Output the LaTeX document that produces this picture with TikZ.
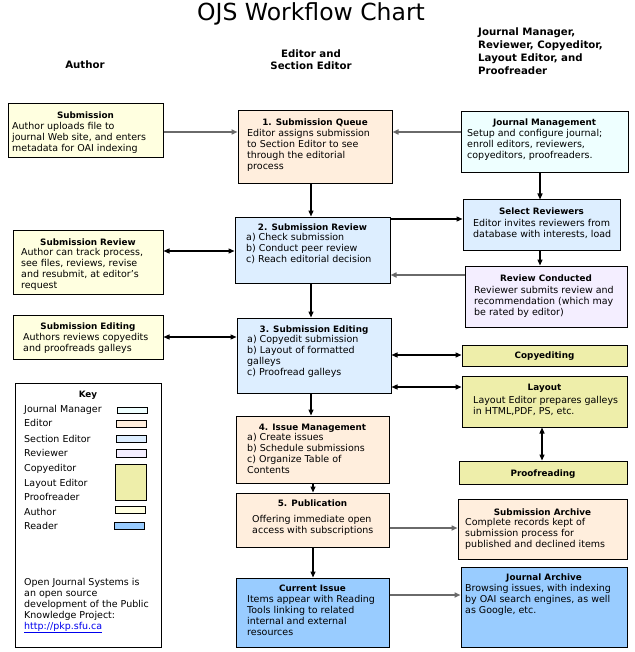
\documentclass[tikz,border=0pt]{standalone}
\usepackage{fontspec}
\setmainfont{DejaVu Sans}
\usetikzlibrary{arrows.meta}
\definecolor{jmcol}{HTML}{EEFFFF}
\definecolor{edcol}{HTML}{FFEEDD}
\definecolor{secol}{HTML}{DDEEFF}
\definecolor{rvcol}{HTML}{F4EEFF}
\definecolor{cecol}{HTML}{EEEEAA}
\definecolor{aucol}{HTML}{FFFFE0}
\definecolor{rdcol}{HTML}{99CCFF}
\definecolor{lncol}{HTML}{6A6A6A}
\definecolor{linkcol}{HTML}{0000EE}
\begin{document}
\begin{tikzpicture}[x=1pt,y=-1pt,
  box/.style={draw=black, line width=1pt, inner sep=0pt},
  sw/.style={draw=black, line width=0.8pt, inner sep=0pt},
  ttl/.style={font=\bfseries\fontsize{8.8}{11}\selectfont, anchor=base, inner sep=0pt},
  bdy/.style={font=\fontsize{9.5}{11}\selectfont, anchor=north west, inner sep=0pt, align=left},
  hdr/.style={font=\bfseries\fontsize{10.2}{13}\selectfont, inner sep=0pt},
  keytxt/.style={font=\fontsize{9.5}{11}\selectfont, anchor=base west, inner sep=0pt},
  arr/.style={line width=1.3pt, draw=black, -{Triangle[length=6pt,width=5pt]}},
  arrg/.style={line width=1.5pt, draw=lncol, -{Triangle[length=6pt,width=5pt,fill=black]}},
  darr/.style={line width=1.3pt, draw=black, {Triangle[length=6pt,width=5pt]}-{Triangle[length=6pt,width=5pt]}}
]
\useasboundingbox (0,0) rectangle (634,652);
\fill[white] (0,0) rectangle (634,652);

% title and headers
\node[font=\fontsize{23.5}{26}\selectfont, anchor=base, inner sep=0pt] (title) at (311,21) {OJS Workflow Chart};
\node[hdr, anchor=base] (hauthor) at (85,68.5) {Author};
\node[hdr, anchor=base] (hed1) at (311,57.5) {Editor and};
\node[hdr, anchor=base] (hed2) at (311,69.5) {Section Editor};
\node[hdr, anchor=base west] (hjm1) at (478,35.5) {Journal Manager,};
\node[hdr, anchor=base west] (hjm2) at (478,48.5) {Reviewer, Copyeditor,};
\node[hdr, anchor=base west] (hjm3) at (478,61.5) {Layout Editor, and};
\node[hdr, anchor=base west] (hjm4) at (478,74.5) {Proofreader};

% boxes
\node[box, fill=aucol, minimum width=155pt, minimum height=54pt] (sub) at (85.5,131) {};
\node[box, fill=aucol, minimum width=150pt, minimum height=64pt] (subrev) at (88,262) {};
\node[box, fill=aucol, minimum width=150pt, minimum height=44pt] (subedit) at (88,337) {};
\node[box, fill=white, minimum width=146pt, minimum height=264pt] (key) at (88,515) {};

\node[box, fill=edcol, minimum width=154pt, minimum height=73pt] (q1) at (315,147.5) {};
\node[box, fill=secol, minimum width=155pt, minimum height=66pt] (q2) at (312.5,250) {};
\node[box, fill=secol, minimum width=154pt, minimum height=75pt] (q3) at (314,355.5) {};
\node[box, fill=edcol, minimum width=153pt, minimum height=67pt] (q4) at (312.5,449.5) {};
\node[box, fill=edcol, minimum width=153pt, minimum height=54pt] (q5) at (312.5,520) {};
\node[box, fill=rdcol, minimum width=153pt, minimum height=69pt] (ci) at (312.5,612.5) {};

\node[box, fill=jmcol, minimum width=167pt, minimum height=61pt] (jm) at (544.5,142.5) {};
\node[box, fill=secol, minimum width=157pt, minimum height=50pt] (sr) at (541.5,225) {};
\node[box, fill=rvcol, minimum width=162pt, minimum height=61pt] (rc) at (546,296.5) {};
\node[box, fill=cecol, minimum width=165pt, minimum height=21pt] (ce) at (544.5,355.5) {};
\node[box, fill=cecol, minimum width=165pt, minimum height=51pt] (lay) at (544.5,401.5) {};
\node[box, fill=cecol, minimum width=168pt, minimum height=23pt] (pr) at (543,472.5) {};
\node[box, fill=edcol, minimum width=169pt, minimum height=60pt] (sa) at (542.5,529) {};
\node[box, fill=rdcol, minimum width=166pt, minimum height=80pt] (ja) at (544,607) {};

% texts
\node[ttl] (subT) at (85.5,118.5) {Submission};
\node[bdy] (subB) at (12,121.8) {Author uploads file to\\journal Web site, and enters\\metadata for OAI indexing};
\node[ttl] (subrevT) at (88,245.5) {Submission Review};
\node[bdy] (subrevB) at (21,247.8) {Author can track process,\\see files, reviews, revise\\and resubmit, at editor’s\\request};
\node[ttl] (subeditT) at (88,329) {Submission Editing};
\node[bdy] (subeditB) at (23,332.8) {Authors reviews copyedits\\and proofreads galleys};

\node[ttl] (q1T) at (315,125.5) {1. Submission Queue};
\node[bdy] (q1B) at (247,128.8) {Editor assigns submission\\to Section Editor to see\\through the editorial\\process};
\node[ttl] (q2T) at (312.5,230.5) {2. Submission Review};
\node[bdy] (q2B) at (246,232.8) {a) Check submission\\b) Conduct peer review\\c) Reach editorial decision};
\node[ttl] (q3T) at (314,332.5) {3. Submission Editing};
\node[bdy] (q3B) at (247,334.8) {a) Copyedit submission\\b) Layout of formatted\\galleys\\c) Proofread galleys};
\node[ttl] (q4T) at (312.5,430.5) {4. Issue Management};
\node[bdy] (q4B) at (247,432.8) {a) Create issues\\b) Schedule submissions\\c) Organize Table of\\Contents};
\node[ttl] (q5T) at (312.5,506.5) {5. Publication};
\node[bdy] (q5B) at (252,514.8) {Offering immediate open\\access with subscriptions};
\node[ttl] (ciT) at (312.5,591.5) {Current Issue};
\node[bdy] (ciB) at (247,594.8) {Items appear with Reading\\Tools linking to related\\internal and external\\resources};

\node[ttl] (jmT) at (544.5,125.5) {Journal Management};
\node[bdy] (jmB) at (467,128.8) {Setup and configure journal;\\enroll editors, reviewers,\\copyeditors, proofreaders.};
\node[ttl] (srT) at (541.5,214.5) {Select Reviewers};
\node[bdy] (srB) at (473,218.8) {Editor invites reviewers from\\database with interests, load};
\node[ttl] (rcT) at (546,281.5) {Review Conducted};
\node[bdy] (rcB) at (474,285.8) {Reviewer submits review and\\recommendation (which may\\be rated by editor)};
\node[ttl] (ceT) at (544.5,358.5) {Copyediting};
\node[ttl] (layT) at (544.5,390.5) {Layout};
\node[bdy] (layB) at (473,395.8) {Layout Editor prepares galleys\\in HTML,PDF, PS, etc.};
\node[ttl] (prT) at (543,476.5) {Proofreading};
\node[ttl] (saT) at (542.5,515.5) {Submission Archive};
\node[bdy] (saB) at (465,517.8) {Complete records kept of\\submission process for\\published and declined items};
\node[ttl] (jaT) at (544,580.5) {Journal Archive};
\node[bdy] (jaB) at (465,583.8) {Browsing issues, with indexing\\by OAI search engines, as well\\as Google, etc.};

% key
\node[ttl] (keyT) at (88,397.5) {Key};
\node[keytxt] (k1) at (24,412.5) {Journal Manager};
\node[keytxt] (k2) at (24,426.5) {Editor};
\node[keytxt] (k3) at (24,442.5) {Section Editor};
\node[keytxt] (k4) at (24,456.5) {Reviewer};
\node[keytxt] (k5) at (24,471.5) {Copyeditor};
\node[keytxt] (k6) at (24,486.5) {Layout Editor};
\node[keytxt] (k7) at (24,500.5) {Proofreader};
\node[keytxt] (k8) at (24,515.5) {Author};
\node[keytxt] (k9) at (24,529.5) {Reader};
\node[sw, fill=jmcol, minimum width=30pt, minimum height=6pt] (s1) at (132,410) {};
\node[sw, fill=edcol, minimum width=30pt, minimum height=7pt] (s2) at (131,423.5) {};
\node[sw, fill=secol, minimum width=30pt, minimum height=7pt] (s3) at (131,438.5) {};
\node[sw, fill=rvcol, minimum width=30pt, minimum height=8pt] (s4) at (131,453) {};
\node[sw, fill=cecol, minimum width=31pt, minimum height=36pt] (s5) at (130.5,482) {};
\node[sw, fill=aucol, minimum width=30pt, minimum height=7pt] (s6) at (130,509.5) {};
\node[sw, fill=rdcol, minimum width=30pt, minimum height=7pt] (s7) at (129,525.5) {};
\node[bdy] (foot) at (24,577.8) {Open Journal Systems is\\an open source\\development of the Public\\Knowledge Project:\\\textcolor{linkcol}{\underline{http://pkp.sfu.ca}}};

% guide coordinates
\coordinate (xm) at (311,0);
\coordinate (xm5) at (313,0);
\coordinate (xr) at (540,0);
\coordinate (xr2) at (542,0);
\coordinate (ya) at (0,132);
\coordinate (yb) at (0,219);
\coordinate (yc) at (0,251);
\coordinate (yd) at (0,275);
\coordinate (ye) at (0,337);
\coordinate (yf) at (0,355);
\coordinate (yg) at (0,387);
\coordinate (yh) at (0,528);
\coordinate (yi) at (0,595);

% connectors
\draw[arrg] (sub.east |- ya) -- (q1.west |- ya);
\draw[arrg] (jm.west |- ya) -- (q1.east |- ya);
\draw[arr] (q1.south -| xm) -- (q2.north -| xm);
\draw[arr] (jm.south -| xr) -- (sr.north -| xr);
\draw[arr] (q2.east |- yb) -- (sr.west |- yb);
\draw[arr] (sr.south -| xr) -- (rc.north -| xr);
\draw[arrg] (rc.west |- yd) -- (q2.east |- yd);
\draw[darr] (subrev.east |- yc) -- (q2.west |- yc);
\draw[arr] (q2.south -| xm) -- (q3.north -| xm);
\draw[darr] (subedit.east |- ye) -- (q3.west |- ye);
\draw[darr] (q3.east |- yf) -- (ce.west |- yf);
\draw[darr] (q3.east |- yg) -- (lay.west |- yg);
\draw[darr] (lay.south -| xr2) -- (pr.north -| xr2);
\draw[arr] (q3.south -| xm) -- (q4.north -| xm);
\draw[arr] (q4.south -| xm5) -- (q5.north -| xm5);
\draw[arrg] (q5.east |- yh) -- (sa.west |- yh);
\draw[arr] (q5.south -| xm5) -- (ci.north -| xm5);
\draw[arrg] (ci.east |- yi) -- (ja.west |- yi);
\end{tikzpicture}
\end{document}
